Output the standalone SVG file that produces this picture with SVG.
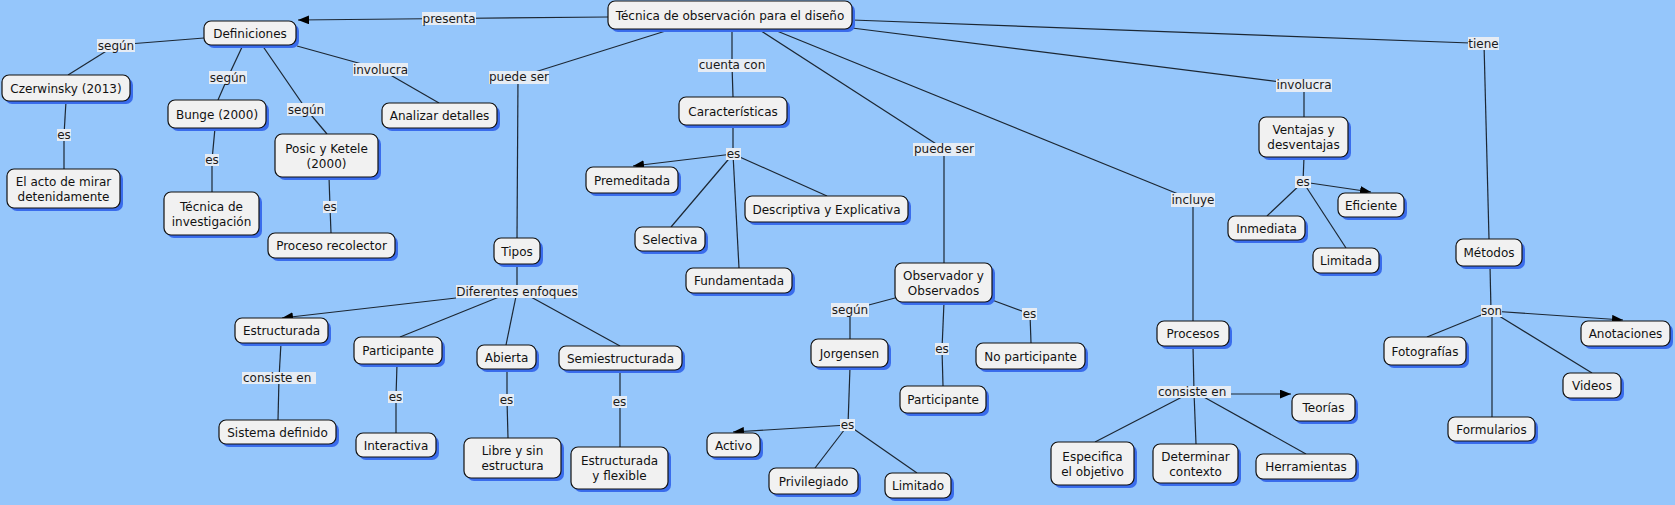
<svg xmlns="http://www.w3.org/2000/svg" width="1675" height="505" viewBox="0 0 1675 505">
<defs>
<style>
.bg{fill:#95c6fb}
.sh{fill:#3a6cec}
.nd{fill:#f1f1f1;stroke:#111;stroke-width:1.2}
.t{font-family:"DejaVu Sans",Verdana,sans-serif;font-size:12px;fill:#111;text-anchor:middle}
.lt{font-family:"DejaVu Sans",Verdana,sans-serif;font-size:12px;fill:#1a1a1a;text-anchor:middle}
.lb{fill:#e6ecf4}
.c line,.c path{stroke:#1c2733;stroke-width:1.2;fill:none}
</style>
<marker id="ar" viewBox="0 0 10 8" refX="10" refY="4" markerWidth="11" markerHeight="9" markerUnits="userSpaceOnUse" orient="auto">
<path d="M0,0 L10,4 L0,8 z" fill="#000"/>
</marker>
</defs>
<rect class="bg" x="0" y="0" width="1675" height="505"/>

<g id="connectors" class="c">
<line x1="608" y1="17" x2="449" y2="18.5"/>
<line x1="449" y1="18.5" x2="298" y2="20" marker-end="url(#ar)"/>
<line x1="204" y1="38" x2="116" y2="45"/>
<line x1="116" y1="45" x2="68" y2="75"/>
<line x1="66" y1="101" x2="64" y2="135"/>
<line x1="64" y1="135" x2="64" y2="169"/>
<line x1="243" y1="45" x2="228" y2="77"/>
<line x1="228" y1="77" x2="218" y2="100"/>
<line x1="215" y1="128" x2="212" y2="160"/>
<line x1="212" y1="160" x2="212" y2="192"/>
<line x1="262" y1="45" x2="306" y2="109"/>
<line x1="306" y1="109" x2="327" y2="134"/>
<line x1="329" y1="177" x2="330" y2="207"/>
<line x1="330" y1="207" x2="331" y2="233"/>
<line x1="297" y1="46" x2="380" y2="69"/>
<line x1="380" y1="69" x2="439" y2="103"/>
<line x1="672" y1="29" x2="519" y2="77"/>
<line x1="518" y1="77" x2="517" y2="238"/>
<line x1="732" y1="29" x2="732" y2="65"/>
<line x1="732" y1="65" x2="733" y2="97"/>
<line x1="733" y1="125" x2="733" y2="154"/>
<line x1="733" y1="154" x2="633" y2="166" marker-end="url(#ar)"/>
<line x1="733" y1="154" x2="671" y2="227"/>
<line x1="733" y1="154" x2="739" y2="268"/>
<line x1="733" y1="154" x2="827" y2="196"/>
<line x1="758" y1="29" x2="944" y2="149"/>
<line x1="944" y1="149" x2="944" y2="263"/>
<line x1="772" y1="29" x2="1193" y2="200"/>
<line x1="1193" y1="200" x2="1193" y2="321"/>
<line x1="852" y1="28" x2="1304" y2="85"/>
<line x1="1304" y1="85" x2="1304" y2="117"/>
<line x1="852" y1="20" x2="1484" y2="43.5"/>
<line x1="1484" y1="43.5" x2="1489" y2="239"/>
<line x1="1304" y1="157" x2="1303" y2="182"/>
<line x1="1303" y1="182" x2="1371" y2="192" marker-end="url(#ar)"/>
<line x1="1303" y1="182" x2="1267" y2="216"/>
<line x1="1303" y1="182" x2="1346" y2="248"/>
<line x1="1490" y1="266" x2="1491" y2="311"/>
<line x1="1491" y1="311" x2="1623" y2="320" marker-end="url(#ar)"/>
<line x1="1491" y1="311" x2="1427" y2="337"/>
<line x1="1492" y1="311" x2="1492" y2="417"/>
<line x1="1491" y1="311" x2="1592" y2="373"/>
<line x1="1193" y1="346" x2="1194" y2="392"/>
<line x1="1194" y1="394" x2="1291" y2="394" marker-end="url(#ar)"/>
<line x1="1184" y1="396" x2="1095" y2="442"/>
<line x1="1194" y1="392" x2="1196" y2="444"/>
<line x1="1202" y1="396" x2="1306" y2="454"/>
<line x1="517" y1="264" x2="517" y2="291.5"/>
<line x1="456" y1="298" x2="282" y2="318" marker-end="url(#ar)"/>
<line x1="499" y1="297" x2="400" y2="337"/>
<line x1="517" y1="291.5" x2="506" y2="345"/>
<line x1="531" y1="297" x2="620" y2="346"/>
<line x1="281" y1="343" x2="279" y2="378"/>
<line x1="279" y1="378" x2="278" y2="420"/>
<line x1="397" y1="364" x2="396" y2="397"/>
<line x1="396" y1="397" x2="396" y2="433"/>
<line x1="507" y1="369" x2="507" y2="400"/>
<line x1="507" y1="400" x2="508" y2="438"/>
<line x1="620" y1="370" x2="620" y2="402"/>
<line x1="620" y1="402" x2="620" y2="447"/>
<line x1="895" y1="298" x2="850" y2="310"/>
<line x1="850" y1="310" x2="850" y2="339"/>
<line x1="944" y1="302" x2="942" y2="349"/>
<line x1="942" y1="349" x2="943" y2="386"/>
<line x1="992" y1="300" x2="1030" y2="314"/>
<line x1="1030" y1="314" x2="1031" y2="343"/>
<line x1="850" y1="367" x2="848" y2="425"/>
<line x1="848" y1="425" x2="733" y2="432" marker-end="url(#ar)"/>
<line x1="848" y1="425" x2="815" y2="468"/>
<line x1="848" y1="425" x2="917" y2="473"/>
</g>

<g id="labels">
<rect class="lb" x="422" y="12" width="54" height="13"/><text class="lt" x="449" y="23">presenta</text>
<rect class="lb" x="97" y="39" width="38" height="13"/><text class="lt" x="116" y="50">según</text>
<rect class="lb" x="209" y="71" width="38" height="13"/><text class="lt" x="228" y="82">según</text>
<rect class="lb" x="287" y="103" width="38" height="13"/><text class="lt" x="306" y="114">según</text>
<rect class="lb" x="57" y="129" width="14" height="12"/><text class="lt" x="64" y="139">es</text>
<rect class="lb" x="205" y="154" width="14" height="12"/><text class="lt" x="212" y="164">es</text>
<rect class="lb" x="323" y="201" width="14" height="12"/><text class="lt" x="330" y="211">es</text>
<rect class="lb" x="353" y="63" width="55" height="13"/><text class="lt" x="380.5" y="74">involucra</text>
<rect class="lb" x="489" y="71" width="60" height="13"/><text class="lt" x="519" y="81">puede ser</text>
<rect class="lb" x="698" y="59" width="68" height="13"/><text class="lt" x="732" y="69">cuenta con</text>
<rect class="lb" x="726" y="148" width="15" height="12"/><text class="lt" x="733.5" y="158">es</text>
<rect class="lb" x="913" y="143" width="62" height="13"/><text class="lt" x="944" y="153">puede ser</text>
<rect class="lb" x="1171" y="193" width="44" height="14"/><text class="lt" x="1193" y="204">incluye</text>
<rect class="lb" x="1276" y="79" width="56" height="13"/><text class="lt" x="1304" y="89">involucra</text>
<rect class="lb" x="1295" y="176" width="16" height="12"/><text class="lt" x="1303" y="186">es</text>
<rect class="lb" x="1468" y="37" width="31" height="13"/><text class="lt" x="1483.5" y="47.5">tiene</text>
<rect class="lb" x="456" y="285" width="122" height="13"/><text class="lt" x="517" y="295.5">Diferentes enfoques</text>
<rect class="lb" x="242" y="372" width="74" height="12"/><text class="lt" x="243" y="382" style="text-anchor:start">consiste en</text>
<rect class="lb" x="388" y="391" width="15" height="12"/><text class="lt" x="395.5" y="401">es</text>
<rect class="lb" x="499" y="394" width="15" height="12"/><text class="lt" x="506.5" y="404">es</text>
<rect class="lb" x="612" y="396" width="15" height="12"/><text class="lt" x="619.5" y="406">es</text>
<rect class="lb" x="831" y="303" width="38" height="14"/><text class="lt" x="850" y="314">según</text>
<rect class="lb" x="935" y="343" width="14" height="12"/><text class="lt" x="942" y="353">es</text>
<rect class="lb" x="1022" y="308" width="15" height="12"/><text class="lt" x="1029.5" y="318">es</text>
<rect class="lb" x="840" y="419" width="15" height="12"/><text class="lt" x="847.5" y="429">es</text>
<rect class="lb" x="1157" y="386" width="74" height="12"/><text class="lt" x="1158" y="396" style="text-anchor:start">consiste en</text>
<rect class="lb" x="1481" y="305" width="21" height="12"/><text class="lt" x="1491.5" y="315">son</text>
</g>

<g id="n1"><rect class="sh" x="611" y="4" width="244" height="28" rx="7"/><rect class="nd" x="608" y="1" width="244" height="28" rx="7"/><text class="t" x="730" y="19.5">Técnica de observación para el diseño</text></g>
<g id="n2"><rect class="sh" x="207" y="24" width="92" height="24" rx="7"/><rect class="nd" x="204" y="21" width="92" height="24" rx="7"/><text class="t" x="250" y="37.5">Definiciones</text></g>
<g id="n3"><rect class="sh" x="5" y="78" width="128" height="26" rx="7"/><rect class="nd" x="2" y="75" width="128" height="26" rx="7"/><text class="t" x="66" y="92.5">Czerwinsky (2013)</text></g>
<g id="n4"><rect class="sh" x="10" y="172" width="113" height="39" rx="7"/><rect class="nd" x="7" y="169" width="113" height="39" rx="7"/><text class="t" x="63.5" y="185.5">El acto de mirar</text><text class="t" x="63.5" y="200.5">detenidamente</text></g>
<g id="n5"><rect class="sh" x="171" y="103" width="98" height="28" rx="7"/><rect class="nd" x="168" y="100" width="98" height="28" rx="7"/><text class="t" x="217" y="118.5">Bunge (2000)</text></g>
<g id="n6"><rect class="sh" x="167" y="195" width="95" height="43" rx="7"/><rect class="nd" x="164" y="192" width="95" height="43" rx="7"/><text class="t" x="211.5" y="210.5">Técnica de</text><text class="t" x="211.5" y="225.5">investigación</text></g>
<g id="n7"><rect class="sh" x="278" y="137" width="103" height="43" rx="7"/><rect class="nd" x="275" y="134" width="103" height="43" rx="7"/><text class="t" x="326.5" y="152.5">Posic y Ketele</text><text class="t" x="326.5" y="167.5">(2000)</text></g>
<g id="n8"><rect class="sh" x="271" y="236" width="127" height="25" rx="7"/><rect class="nd" x="268" y="233" width="127" height="25" rx="7"/><text class="t" x="331.5" y="250">Proceso recolector</text></g>
<g id="n9"><rect class="sh" x="385" y="106" width="115" height="25" rx="7"/><rect class="nd" x="382" y="103" width="115" height="25" rx="7"/><text class="t" x="439.5" y="120">Analizar detalles</text></g>
<g id="n10"><rect class="sh" x="497" y="241" width="46" height="26" rx="7"/><rect class="nd" x="494" y="238" width="46" height="26" rx="7"/><text class="t" x="517" y="255.5">Tipos</text></g>
<g id="n11"><rect class="sh" x="682" y="100" width="108" height="28" rx="7"/><rect class="nd" x="679" y="97" width="108" height="28" rx="7"/><text class="t" x="733" y="115.5">Características</text></g>
<g id="n12"><rect class="sh" x="589" y="170" width="92" height="26" rx="7"/><rect class="nd" x="586" y="167" width="92" height="26" rx="7"/><text class="t" x="632" y="184.5">Premeditada</text></g>
<g id="n13"><rect class="sh" x="638" y="230" width="70" height="24" rx="7"/><rect class="nd" x="635" y="227" width="70" height="24" rx="7"/><text class="t" x="670" y="243.5">Selectiva</text></g>
<g id="n14"><rect class="sh" x="748" y="199" width="163" height="26" rx="7"/><rect class="nd" x="745" y="196" width="163" height="26" rx="7"/><text class="t" x="826.5" y="213.5">Descriptiva y Explicativa</text></g>
<g id="n15"><rect class="sh" x="689" y="271" width="106" height="25" rx="7"/><rect class="nd" x="686" y="268" width="106" height="25" rx="7"/><text class="t" x="739" y="285">Fundamentada</text></g>
<g id="n16"><rect class="sh" x="898" y="266" width="97" height="39" rx="7"/><rect class="nd" x="895" y="263" width="97" height="39" rx="7"/><text class="t" x="943.5" y="279.5">Observador y</text><text class="t" x="943.5" y="294.5">Observados</text></g>
<g id="n17"><rect class="sh" x="814" y="342" width="77" height="28" rx="7"/><rect class="nd" x="811" y="339" width="77" height="28" rx="7"/><text class="t" x="849.5" y="357.5">Jorgensen</text></g>
<g id="n18"><rect class="sh" x="903" y="389" width="86" height="27" rx="7"/><rect class="nd" x="900" y="386" width="86" height="27" rx="7"/><text class="t" x="943" y="404">Participante</text></g>
<g id="n19"><rect class="sh" x="979" y="346" width="109" height="26" rx="7"/><rect class="nd" x="976" y="343" width="109" height="26" rx="7"/><text class="t" x="1030.5" y="360.5">No participante</text></g>
<g id="n20"><rect class="sh" x="710" y="436" width="53" height="24" rx="7"/><rect class="nd" x="707" y="433" width="53" height="24" rx="7"/><text class="t" x="733.5" y="449.5">Activo</text></g>
<g id="n21"><rect class="sh" x="772" y="471" width="89" height="26" rx="7"/><rect class="nd" x="769" y="468" width="89" height="26" rx="7"/><text class="t" x="813.5" y="485.5">Privilegiado</text></g>
<g id="n22"><rect class="sh" x="888" y="476" width="66" height="25" rx="7"/><rect class="nd" x="885" y="473" width="66" height="25" rx="7"/><text class="t" x="918" y="490">Limitado</text></g>
<g id="n23"><rect class="sh" x="238" y="321" width="93" height="25" rx="7"/><rect class="nd" x="235" y="318" width="93" height="25" rx="7"/><text class="t" x="281.5" y="335">Estructurada</text></g>
<g id="n24"><rect class="sh" x="222" y="423" width="117" height="24" rx="7"/><rect class="nd" x="219" y="420" width="117" height="24" rx="7"/><text class="t" x="277.5" y="436.5">Sistema definido</text></g>
<g id="n25"><rect class="sh" x="357" y="340" width="88" height="27" rx="7"/><rect class="nd" x="354" y="337" width="88" height="27" rx="7"/><text class="t" x="398" y="355">Participante</text></g>
<g id="n26"><rect class="sh" x="359" y="436" width="80" height="24" rx="7"/><rect class="nd" x="356" y="433" width="80" height="24" rx="7"/><text class="t" x="396" y="449.5">Interactiva</text></g>
<g id="n27"><rect class="sh" x="480" y="348" width="59" height="24" rx="7"/><rect class="nd" x="477" y="345" width="59" height="24" rx="7"/><text class="t" x="506.5" y="361.5">Abierta</text></g>
<g id="n28"><rect class="sh" x="467" y="441" width="97" height="40" rx="7"/><rect class="nd" x="464" y="438" width="97" height="40" rx="7"/><text class="t" x="512.5" y="455">Libre y sin</text><text class="t" x="512.5" y="470">estructura</text></g>
<g id="n29"><rect class="sh" x="562" y="349" width="123" height="24" rx="7"/><rect class="nd" x="559" y="346" width="123" height="24" rx="7"/><text class="t" x="620.5" y="362.5">Semiestructurada</text></g>
<g id="n30"><rect class="sh" x="574" y="450" width="97" height="42" rx="7"/><rect class="nd" x="571" y="447" width="97" height="42" rx="7"/><text class="t" x="619.5" y="465">Estructurada</text><text class="t" x="619.5" y="480">y flexible</text></g>
<g id="n31"><rect class="sh" x="1262" y="120" width="89" height="40" rx="7"/><rect class="nd" x="1259" y="117" width="89" height="40" rx="7"/><text class="t" x="1303.5" y="134">Ventajas y</text><text class="t" x="1303.5" y="149">desventajas</text></g>
<g id="n32"><rect class="sh" x="1341" y="196" width="66" height="24" rx="7"/><rect class="nd" x="1338" y="193" width="66" height="24" rx="7"/><text class="t" x="1371" y="209.5">Eficiente</text></g>
<g id="n33"><rect class="sh" x="1231" y="219" width="77" height="24" rx="7"/><rect class="nd" x="1228" y="216" width="77" height="24" rx="7"/><text class="t" x="1266.5" y="232.5">Inmediata</text></g>
<g id="n34"><rect class="sh" x="1316" y="251" width="66" height="25" rx="7"/><rect class="nd" x="1313" y="248" width="66" height="25" rx="7"/><text class="t" x="1346" y="265">Limitada</text></g>
<g id="n35"><rect class="sh" x="1160" y="324" width="72" height="25" rx="7"/><rect class="nd" x="1157" y="321" width="72" height="25" rx="7"/><text class="t" x="1193" y="338">Procesos</text></g>
<g id="n36"><rect class="sh" x="1295" y="397" width="63" height="27" rx="7"/><rect class="nd" x="1292" y="394" width="63" height="27" rx="7"/><text class="t" x="1323.5" y="412">Teorías</text></g>
<g id="n37"><rect class="sh" x="1054" y="445" width="83" height="43" rx="7"/><rect class="nd" x="1051" y="442" width="83" height="43" rx="7"/><text class="t" x="1092.5" y="460.5">Especifica</text><text class="t" x="1092.5" y="475.5">el objetivo</text></g>
<g id="n38"><rect class="sh" x="1156" y="447" width="85" height="39" rx="7"/><rect class="nd" x="1153" y="444" width="85" height="39" rx="7"/><text class="t" x="1195.5" y="460.5">Determinar</text><text class="t" x="1195.5" y="475.5">contexto</text></g>
<g id="n39"><rect class="sh" x="1259" y="457" width="100" height="25" rx="7"/><rect class="nd" x="1256" y="454" width="100" height="25" rx="7"/><text class="t" x="1306" y="471">Herramientas</text></g>
<g id="n40"><rect class="sh" x="1459" y="242" width="66" height="27" rx="7"/><rect class="nd" x="1456" y="239" width="66" height="27" rx="7"/><text class="t" x="1489" y="257">Métodos</text></g>
<g id="n41"><rect class="sh" x="1387" y="340" width="82" height="28" rx="7"/><rect class="nd" x="1384" y="337" width="82" height="28" rx="7"/><text class="t" x="1425" y="355.5">Fotografías</text></g>
<g id="n42"><rect class="sh" x="1584" y="324" width="89" height="25" rx="7"/><rect class="nd" x="1581" y="321" width="89" height="25" rx="7"/><text class="t" x="1625.5" y="338">Anotaciones</text></g>
<g id="n43"><rect class="sh" x="1566" y="376" width="58" height="25" rx="7"/><rect class="nd" x="1563" y="373" width="58" height="25" rx="7"/><text class="t" x="1592" y="390">Videos</text></g>
<g id="n44"><rect class="sh" x="1451" y="420" width="87" height="24" rx="7"/><rect class="nd" x="1448" y="417" width="87" height="24" rx="7"/><text class="t" x="1491.5" y="433.5">Formularios</text></g>
</svg>
